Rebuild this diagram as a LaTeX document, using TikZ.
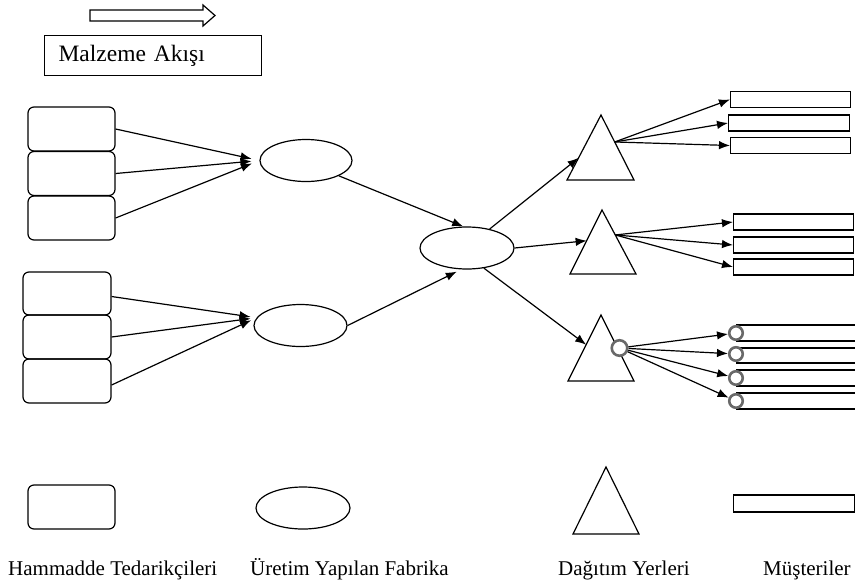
\documentclass[tikz,border=0pt]{standalone}
\usepackage{fontspec}
\setmainfont{Liberation Serif}
\usetikzlibrary{arrows.meta,shapes.geometric,calc}
\definecolor{handlegray}{RGB}{105,105,105}
\begin{document}
\begin{tikzpicture}[x=1pt,y=-1pt,
 shp/.style={draw=black, line width=1.2pt},
 suppl/.style={shp, rectangle, rounded corners=6pt, minimum width=87pt, minimum height=44pt, inner sep=0pt},
 fab/.style={shp, ellipse, minimum width=94pt, minimum height=42pt, inner sep=0pt},
 cus/.style={shp, rectangle, minimum width=120pt, minimum height=16pt, inner sep=0pt, anchor=west},
 arr/.style={line width=1.2pt, -{Latex[length=11pt,width=8.5pt]}},
 hnd/.style={circle, draw=handlegray, line width=2.6pt, fill=white, minimum size=13.5pt, inner sep=0pt},
 lbl/.style={font=\fontsize{21}{25}\selectfont, anchor=base west, inner sep=0pt},
 tri/.style={line width=1.2pt, line join=miter},
]
\useasboundingbox (0,0) rectangle (855,582);

% legend: material flow
\draw[line width=1.2pt] (90,10)--(203,10)--(203,5)--(215,15.5)--(203,26)--(203,21)--(90,21)--cycle;
\node[shp, anchor=north west, minimum width=217pt, minimum height=40pt, text width=189pt,
      inner xsep=14pt, inner ysep=0pt, align=left, font=\fontsize{23.5}{28}\selectfont]
      (flow) at (44,35) {Malzeme Akışı};

% suppliers group 1
\node[suppl] (s1) at (71.5,129) {};
\node[suppl] (s2) at (71.5,173.5) {};
\node[suppl] (s3) at (71.5,218) {};
% suppliers group 2
\node[suppl, minimum width=88pt, minimum height=43pt] (s4) at (67,293.5) {};
\node[suppl, minimum width=88pt] (s5) at (67,337) {};
\node[suppl, minimum width=88pt] (s6) at (67,381) {};

% factories
\node[fab, minimum width=92pt] (e1) at (306,160.5) {};
\node[fab, minimum width=93pt] (e2) at (300.5,325.5) {};
\node[fab] (c) at (467,248) {};

\draw[arr, shorten >=8pt] (s1.east) -- (e1.west);
\draw[arr, shorten >=8pt] (s2.east) -- (e1.west);
\draw[arr, shorten >=8pt] (s3.east) -- (e1.west);
\draw[arr, shorten >=6pt] ([yshift=-3pt]s4.east) -- (e2.170);
\draw[arr, shorten >=6pt] (s5.east) -- (e2.170);
\draw[arr, shorten >=6pt] ([yshift=-4pt]s6.east) -- (e2.170);
\draw[arr] (e1.-25) -- (c.100);
\draw[arr, shorten >=5pt] (e2.east) -- (c.255);

% distribution triangles
\coordinate (t1a) at (601,115); \coordinate (t1l) at (567,180); \coordinate (t1r) at (634,180);
\coordinate (t2a) at (602,210); \coordinate (t2l) at (570,274); \coordinate (t2r) at (636,274);
\coordinate (t3a) at (601,315); \coordinate (t3l) at (568,381); \coordinate (t3r) at (634,381);
\draw[tri] (t1a)--(t1l)--(t1r)--cycle;
\draw[tri] (t2a)--(t2l)--(t2r)--cycle;
\draw[tri] (t3a)--(t3l)--(t3r)--cycle;
\coordinate (d1in) at ($(t1a)!0.66!(t1l)$);
\coordinate (d1out) at ($(t1a)!0.415!(t1r)$);
\coordinate (d2in) at ($(t2a)!0.48!(t2l)$);
\coordinate (d2out) at ($(t2a)!0.39!(t2r)$);
\coordinate (d3in) at ($(t3a)!0.45!(t3l)$);

\draw[arr] (c.40) -- (d1in);
\draw[arr] (c.east) -- (d2in);
\draw[arr] (c.-50) -- (d3in);

% customers of triangle 1
\node[cus] (r11) at (730,99.5) {};
\node[cus, minimum width=121pt] (r12) at (728,123) {};
\node[cus] (r13) at (730,145.5) {};
\draw[arr] (d1out) -- (r11.west);
\draw[arr] (d1out) -- (r12.west);
\draw[arr] (d1out) -- (r13.west);

% customers of triangle 2
\node[cus] (r21) at (733,222) {};
\node[cus] (r22) at (733,245) {};
\node[cus] (r23) at (733,267) {};
\draw[arr] (d2out) -- (r21.west);
\draw[arr] (d2out) -- (r22.west);
\draw[arr] (d2out) -- (r23.west);

% customers of triangle 3 (running off the page)
\node[cus, minimum width=140pt] (r31) at (736,333) {};
\node[cus, minimum width=140pt, minimum height=15pt] (r32) at (736,355.5) {};
\node[cus, minimum width=140pt] (r33) at (736,378) {};
\node[cus, minimum width=140pt] (r34) at (736,401) {};
\node[hnd, minimum size=15.5pt] (h0) at ($(t3a)!0.5!(t3r)+(2,0)$) {};
\node[hnd] (h31) at (r31.west) {};
\node[hnd] (h32) at ([yshift=1.5pt]r32.west) {};
\node[hnd] (h33) at (r33.west) {};
\node[hnd] (h34) at (r34.west) {};
\draw[arr] (h0) -- (h31);
\draw[arr] (h0) -- (h32);
\draw[arr] (h0) -- (h33);
\draw[arr] (h0) -- (h34);

% legend shapes
\node[suppl] (ls) at (71.5,507) {};
\node[fab] (lf) at (303,508) {};
\coordinate (lta) at (606,467); \coordinate (ltl) at (573,534); \coordinate (ltr) at (639,534);
\draw[tri] (lta)--(ltl)--(ltr)--cycle;
\node[cus, minimum width=121pt, minimum height=17pt] (lc) at (733,503.5) {};

% legend labels
\node[lbl] (l1) at (8,575) {Hammadde Tedarikçileri};
\node[lbl] (l2) at (250,575) {Üretim Yapılan Fabrika};
\node[lbl] (l3) at (558,575) {Dağıtım Yerleri};
\node[lbl] (l4) at (763,575) {Müşteriler};
\end{tikzpicture}
\end{document}
